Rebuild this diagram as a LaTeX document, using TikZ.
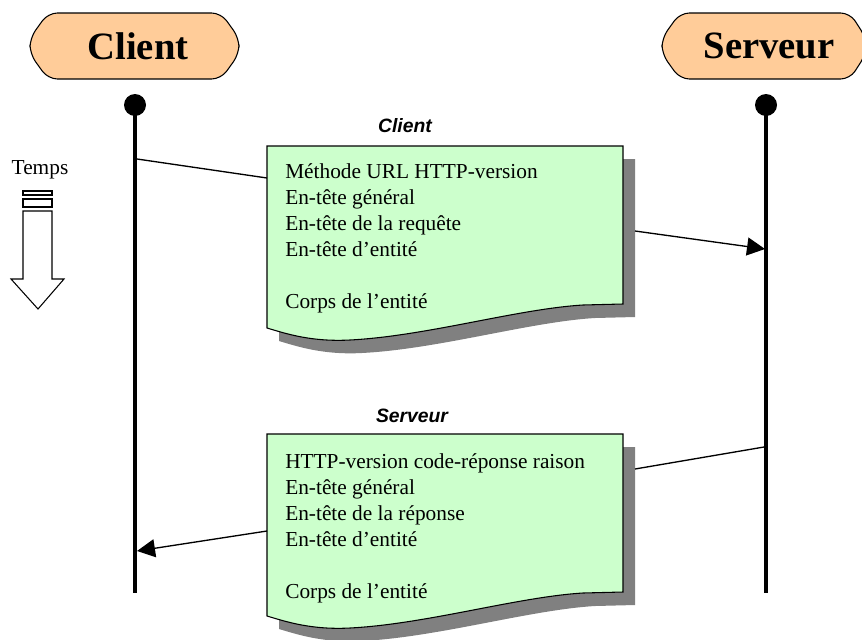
\documentclass[tikz,border=0pt]{standalone}
\usepackage{fontspec}
\setmainfont{Liberation Serif}
\newfontfamily\headsans{Liberation Sans}
\usepackage{tikz}
\usetikzlibrary{arrows.meta}
\definecolor{peach}{RGB}{255,204,153}
\definecolor{docgreen}{RGB}{204,255,204}
\definecolor{docshadow}{RGB}{128,128,128}

\begin{document}
\begin{tikzpicture}[
    x=0.75pt, y=-0.75pt,
    pill/.style={fill=peach,draw=black,line width=0.8pt,rounded corners=7pt},
    party/.style={inner sep=0pt,font=\fontsize{29}{34}\selectfont\bfseries},
    lifeline/.style={line width=3pt},
    msg/.style={line width=1pt},
    sendarrow/.style={msg,-{Triangle[length=13.5pt,width=13.5pt]}},
    doctext/.style={anchor=north west,inner sep=0pt,align=left,font=\fontsize{16}{19.5}\selectfont},
    sender/.style={inner sep=0pt,font=\headsans\fontsize{14.5}{17}\selectfont\bfseries\itshape},
    docbox/.pic={
        \fill[docshadow] (12,13) -- (368,13) -- (368,171) -- (328,172)
            .. controls (262,176) and (172,203) .. (95,207)
            .. controls (57,209) and (32,201) .. (12,195) -- cycle;
        \filldraw[fill=docgreen,draw=black,line width=0.8pt] (0,0) -- (356,0) -- (356,158) -- (316,159)
            .. controls (250,163) and (160,190) .. (83,194)
            .. controls (45,196) and (20,188) .. (0,182) -- cycle;
    }
]
\useasboundingbox (0,0) rectangle (862,639);

% Parties
\draw[pill] (48,13) -- (221,13) -- (239,38) -- (239,54) -- (221,79) -- (48,79) -- (30,54) -- (30,38) -- cycle;
\draw[pill] (680,13) -- (850,13) -- (866,38) -- (866,54) -- (850,79) -- (680,79) -- (662,54) -- (662,38) -- cycle;
\node[party] (client) at (138,46) {Client};
\node[party] (serveur) at (769,46) {Serveur};

% Lifelines
\coordinate (cTop) at (135,105);
\coordinate (cBot) at (135,593);
\coordinate (sTop) at (766,105);
\coordinate (sBot) at (766,593);
\draw[lifeline] (cTop) -- (cBot);
\draw[lifeline] (sTop) -- (sBot);
\fill (cTop) circle[radius=11];
\fill (sTop) circle[radius=11];

% Time
\node[inner sep=0pt,font=\fontsize{16}{19.5}\selectfont] (temps) at (40,170) {Temps};
\draw[line width=0.8pt] (23,191) rectangle (52,195);
\draw[line width=0.8pt] (23,199) rectangle (52,207);
\draw[line width=0.8pt] (23,211) -- (23,279) -- (11,279) -- (38,309) -- (64,279) -- (52,279) -- (52,211) -- cycle;

% Messages
\pic at (267,146) {docbox};
\pic at (267,434) {docbox};
\node[sender] (reqtitle) at (405,126) {Client};
\node[sender] (reptitle) at (412,416) {Serveur};
\node[doctext] (req) at (285,163) {M\'ethode URL HTTP-version\\En-t\^ete g\'en\'eral\\En-t\^ete de la requ\^ete\\En-t\^ete d'entit\'e\\[19.5pt]Corps de l'entit\'e};
\node[doctext] (rep) at (285,453) {HTTP-version code-r\'eponse raison\\En-t\^ete g\'en\'eral\\En-t\^ete de la r\'eponse\\En-t\^ete d'entit\'e\\[19.5pt]Corps de l'entit\'e};

% Connectors
\coordinate (cOut) at (137,159);
\coordinate (reqIn) at (267,178);
\coordinate (reqOut) at (635,231);
\coordinate (sIn) at (765,249);
\coordinate (sOut) at (764,447);
\coordinate (repIn) at (635,469);
\coordinate (repOut) at (267,531);
\coordinate (cIn) at (137,551);
\draw[msg] (cOut) -- (reqIn);
\draw[sendarrow] (reqOut) -- (sIn);
\draw[msg] (sOut) -- (repIn);
\draw[sendarrow] (repOut) -- (cIn);

\end{tikzpicture}
\end{document}
